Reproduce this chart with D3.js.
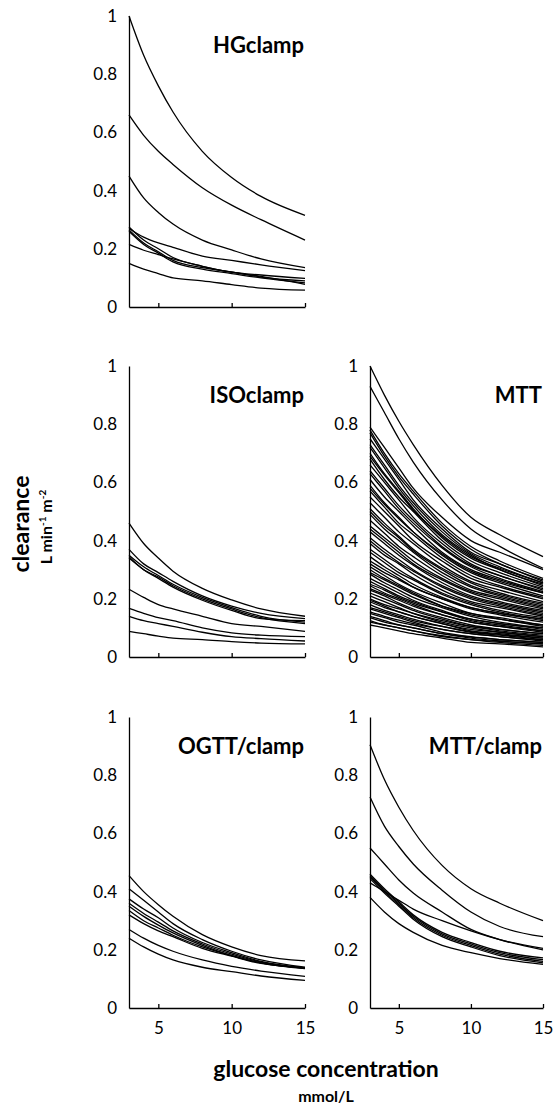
<!DOCTYPE html>
<html>
<head>
<meta charset="utf-8">
<script src="https://cdn.jsdelivr.net/npm/d3@7"></script>
<style>
  html, body { margin: 0; padding: 0; background: #fff; }
  svg { display: block; }
  text { font-family: Lato, "Open Sans", sans-serif; fill: #000; }
</style>
</head>
<body>
<svg id="chart" width="553" height="1108"></svg>
<script>
// glucose concentration (mmol/L) at which each curve is sampled
const glucose = [3, 4, 5, 6, 8, 10, 12, 15];
const xTicks = [5, 10, 15];
const yTicks = [0, 0.2, 0.4, 0.6, 0.8, 1];
const yTickLabels = ["0", "0.2", "0.4", "0.6", "0.8", "1"];

const hgClamp = [
  [1.00, 0.865, 0.76, 0.67, 0.535, 0.445, 0.38, 0.315],
  [0.66, 0.59, 0.535, 0.49, 0.41, 0.35, 0.30, 0.23],
  [0.45, 0.375, 0.325, 0.285, 0.23, 0.196, 0.165, 0.135],
  [0.27, 0.24, 0.22, 0.205, 0.175, 0.16, 0.145, 0.125],
  [0.275, 0.23, 0.20, 0.17, 0.14, 0.12, 0.105, 0.078],
  [0.265, 0.22, 0.19, 0.16, 0.135, 0.12, 0.103, 0.09],
  [0.26, 0.215, 0.185, 0.155, 0.13, 0.115, 0.10, 0.083],
  [0.215, 0.195, 0.18, 0.165, 0.14, 0.12, 0.11, 0.098],
  [0.15, 0.13, 0.115, 0.10, 0.09, 0.077, 0.065, 0.058]
];

const isoClamp = [
  [0.46, 0.39, 0.34, 0.295, 0.236, 0.196, 0.165, 0.14],
  [0.37, 0.32, 0.29, 0.26, 0.21, 0.175, 0.15, 0.132],
  [0.35, 0.31, 0.28, 0.25, 0.205, 0.17, 0.14, 0.12],
  [0.345, 0.30, 0.275, 0.245, 0.20, 0.165, 0.135, 0.115],
  [0.34, 0.30, 0.27, 0.24, 0.195, 0.16, 0.132, 0.125],
  [0.233, 0.205, 0.18, 0.165, 0.14, 0.115, 0.105, 0.088],
  [0.167, 0.15, 0.135, 0.125, 0.10, 0.083, 0.075, 0.07],
  [0.14, 0.125, 0.115, 0.105, 0.085, 0.07, 0.063, 0.055],
  [0.088, 0.08, 0.072, 0.065, 0.06, 0.053, 0.048, 0.045]
];

const mtt = [
  [1.00, 0.90, 0.81, 0.73, 0.59, 0.48, 0.42, 0.345],
  [0.93, 0.84, 0.75, 0.67, 0.54, 0.44, 0.38, 0.305],
  [0.79, 0.72, 0.65, 0.58, 0.48, 0.40, 0.36, 0.30],
  [0.78, 0.70, 0.63, 0.57, 0.46, 0.38, 0.33, 0.27],
  [0.77, 0.69, 0.62, 0.56, 0.45, 0.37, 0.32, 0.265],
  [0.75, 0.68, 0.61, 0.54, 0.44, 0.36, 0.32, 0.26],
  [0.73, 0.66, 0.59, 0.53, 0.43, 0.355, 0.31, 0.255],
  [0.72, 0.65, 0.58, 0.52, 0.42, 0.35, 0.30, 0.25],
  [0.70, 0.63, 0.57, 0.51, 0.41, 0.34, 0.30, 0.245],
  [0.69, 0.625, 0.565, 0.505, 0.415, 0.345, 0.305, 0.255],
  [0.68, 0.61, 0.55, 0.50, 0.40, 0.33, 0.29, 0.24],
  [0.66, 0.60, 0.54, 0.48, 0.39, 0.32, 0.28, 0.235],
  [0.64, 0.58, 0.52, 0.47, 0.38, 0.315, 0.28, 0.23],
  [0.63, 0.57, 0.51, 0.46, 0.375, 0.31, 0.27, 0.225],
  [0.61, 0.55, 0.50, 0.45, 0.36, 0.30, 0.265, 0.22],
  [0.59, 0.53, 0.48, 0.43, 0.35, 0.29, 0.255, 0.21],
  [0.58, 0.525, 0.475, 0.43, 0.355, 0.295, 0.26, 0.22],
  [0.57, 0.515, 0.46, 0.42, 0.34, 0.28, 0.245, 0.205],
  [0.55, 0.50, 0.45, 0.40, 0.33, 0.27, 0.24, 0.20],
  [0.53, 0.48, 0.43, 0.39, 0.315, 0.26, 0.23, 0.19],
  [0.51, 0.46, 0.415, 0.37, 0.305, 0.255, 0.22, 0.185],
  [0.50, 0.45, 0.41, 0.365, 0.30, 0.245, 0.215, 0.18],
  [0.49, 0.44, 0.40, 0.36, 0.29, 0.24, 0.21, 0.175],
  [0.47, 0.425, 0.38, 0.345, 0.28, 0.23, 0.205, 0.17],
  [0.45, 0.41, 0.37, 0.33, 0.27, 0.225, 0.20, 0.165],
  [0.44, 0.40, 0.36, 0.32, 0.265, 0.22, 0.19, 0.16],
  [0.43, 0.39, 0.35, 0.315, 0.255, 0.21, 0.185, 0.155],
  [0.41, 0.37, 0.335, 0.30, 0.245, 0.205, 0.18, 0.15],
  [0.40, 0.36, 0.325, 0.295, 0.24, 0.20, 0.175, 0.145],
  [0.39, 0.35, 0.32, 0.285, 0.23, 0.19, 0.17, 0.14],
  [0.37, 0.335, 0.30, 0.27, 0.22, 0.185, 0.16, 0.135],
  [0.36, 0.325, 0.29, 0.265, 0.215, 0.18, 0.155, 0.13],
  [0.345, 0.31, 0.28, 0.25, 0.205, 0.17, 0.15, 0.125],
  [0.33, 0.30, 0.27, 0.24, 0.20, 0.165, 0.145, 0.12],
  [0.32, 0.29, 0.265, 0.24, 0.20, 0.17, 0.15, 0.13],
  [0.31, 0.28, 0.25, 0.225, 0.185, 0.15, 0.135, 0.11],
  [0.30, 0.27, 0.245, 0.22, 0.175, 0.145, 0.13, 0.105],
  [0.29, 0.265, 0.24, 0.215, 0.175, 0.15, 0.13, 0.11],
  [0.285, 0.255, 0.23, 0.205, 0.17, 0.14, 0.12, 0.10],
  [0.27, 0.245, 0.22, 0.195, 0.16, 0.13, 0.115, 0.095],
  [0.26, 0.235, 0.21, 0.19, 0.155, 0.125, 0.11, 0.09],
  [0.25, 0.23, 0.205, 0.185, 0.155, 0.13, 0.115, 0.10],
  [0.245, 0.22, 0.20, 0.18, 0.145, 0.12, 0.105, 0.085],
  [0.235, 0.215, 0.195, 0.175, 0.145, 0.12, 0.105, 0.09],
  [0.23, 0.21, 0.185, 0.165, 0.135, 0.11, 0.095, 0.08],
  [0.22, 0.20, 0.18, 0.16, 0.13, 0.105, 0.09, 0.075],
  [0.21, 0.19, 0.17, 0.15, 0.12, 0.10, 0.085, 0.07],
  [0.20, 0.18, 0.165, 0.15, 0.125, 0.105, 0.095, 0.08],
  [0.195, 0.175, 0.155, 0.14, 0.115, 0.09, 0.08, 0.065],
  [0.19, 0.17, 0.155, 0.14, 0.115, 0.095, 0.085, 0.07],
  [0.18, 0.16, 0.145, 0.13, 0.105, 0.085, 0.075, 0.06],
  [0.17, 0.155, 0.14, 0.125, 0.105, 0.087, 0.077, 0.065],
  [0.165, 0.15, 0.135, 0.12, 0.095, 0.08, 0.07, 0.055],
  [0.155, 0.14, 0.127, 0.115, 0.095, 0.08, 0.07, 0.06],
  [0.15, 0.135, 0.12, 0.11, 0.085, 0.07, 0.06, 0.05],
  [0.14, 0.125, 0.11, 0.10, 0.08, 0.065, 0.055, 0.045],
  [0.135, 0.12, 0.11, 0.10, 0.08, 0.068, 0.06, 0.05],
  [0.125, 0.11, 0.10, 0.09, 0.07, 0.06, 0.05, 0.04],
  [0.12, 0.11, 0.10, 0.09, 0.073, 0.06, 0.054, 0.045],
  [0.11, 0.10, 0.09, 0.08, 0.065, 0.05, 0.045, 0.035]
];

const ogttClamp = [
  [0.455, 0.40, 0.355, 0.315, 0.252, 0.21, 0.18, 0.162],
  [0.41, 0.37, 0.33, 0.29, 0.235, 0.195, 0.165, 0.14],
  [0.375, 0.34, 0.31, 0.275, 0.225, 0.19, 0.16, 0.138],
  [0.36, 0.325, 0.295, 0.265, 0.22, 0.185, 0.158, 0.136],
  [0.35, 0.315, 0.285, 0.258, 0.215, 0.18, 0.155, 0.135],
  [0.335, 0.30, 0.275, 0.25, 0.21, 0.18, 0.155, 0.137],
  [0.32, 0.29, 0.265, 0.245, 0.205, 0.178, 0.153, 0.138],
  [0.27, 0.24, 0.215, 0.195, 0.165, 0.143, 0.127, 0.109],
  [0.24, 0.21, 0.185, 0.165, 0.14, 0.125, 0.11, 0.095]
];

const mttClamp = [
  [0.905, 0.785, 0.69, 0.61, 0.49, 0.41, 0.36, 0.30],
  [0.725, 0.625, 0.555, 0.495, 0.405, 0.33, 0.28, 0.245],
  [0.55, 0.495, 0.44, 0.395, 0.33, 0.27, 0.235, 0.20],
  [0.43, 0.40, 0.37, 0.34, 0.30, 0.265, 0.235, 0.205],
  [0.46, 0.41, 0.365, 0.32, 0.26, 0.225, 0.195, 0.172],
  [0.455, 0.405, 0.36, 0.315, 0.255, 0.22, 0.19, 0.166],
  [0.45, 0.40, 0.355, 0.31, 0.25, 0.215, 0.185, 0.16],
  [0.445, 0.395, 0.35, 0.305, 0.245, 0.21, 0.18, 0.155],
  [0.38, 0.33, 0.29, 0.26, 0.215, 0.19, 0.17, 0.15]
];

const panels = [
  { name: "HGclamp",    data: hgClamp,   x0: 129, x1: 305, yTop: 16,  yBot: 307,  xLabels: false },
  { name: "ISOclamp",   data: isoClamp,  x0: 129, x1: 305, yTop: 366, yBot: 657,  xLabels: false },
  { name: "MTT",        data: mtt,       x0: 370, x1: 543, yTop: 366, yBot: 657,  xLabels: false },
  { name: "OGTT/clamp", data: ogttClamp, x0: 129, x1: 305, yTop: 717, yBot: 1008, xLabels: true },
  { name: "MTT/clamp",  data: mttClamp,  x0: 370, x1: 543, yTop: 717, yBot: 1008, xLabels: true }
];

const svg = d3.select("#chart");

panels.forEach(p => {
  const x = d3.scaleLinear().domain([3, 15]).range([p.x0, p.x1]);
  const y = d3.scaleLinear().domain([0, 1]).range([p.yBot, p.yTop]);
  const g = svg.append("g");

  const line = d3.line().x((d, i) => x(glucose[i])).y(d => y(d)).curve(d3.curveMonotoneX);
  g.selectAll("path.curve").data(p.data).join("path")
    .attr("class", "curve")
    .attr("d", line)
    .attr("fill", "none")
    .attr("stroke", "#000")
    .attr("stroke-width", 1.3)
    .attr("stroke-linejoin", "round");

  const yAxis = d3.axisLeft(y).tickValues(yTicks)
    .tickFormat((d, i) => yTickLabels[i]).tickSize(0).tickPadding(12);
  const ya = g.append("g").attr("transform", `translate(${p.x0},0)`).call(yAxis);
  ya.select(".domain").attr("stroke", "#000").attr("stroke-width", 1.3);
  ya.selectAll("text").style("font-size", "17px").style("font-family", "Lato, sans-serif");

  const xAxis = d3.axisBottom(x).tickValues(xTicks)
    .tickSizeInner(-4).tickSizeOuter(0).tickPadding(14)
    .tickFormat(p.xLabels ? d3.format("d") : () => "");
  const xa = g.append("g").attr("transform", `translate(0,${p.yBot})`).call(xAxis);
  xa.select(".domain").attr("stroke", "#000").attr("stroke-width", 1.3);
  xa.selectAll(".tick line").attr("stroke", "#000").attr("stroke-width", 1.3);
  xa.selectAll("text").style("font-size", "17px").style("font-family", "Lato, sans-serif");

  g.append("text")
    .attr("x", p.x1 - 1)
    .attr("y", p.yTop + 37)
    .attr("text-anchor", "end")
    .style("font-size", "22px")
    .style("font-weight", "bold")
    .text(p.name);
});

// axis titles
svg.append("text")
  .attr("transform", "translate(29,524) rotate(-90)")
  .attr("text-anchor", "middle")
  .style("font-size", "23px").style("font-weight", "bold")
  .text("clearance");

const unit = svg.append("text")
  .attr("transform", "translate(52,527) rotate(-90)")
  .attr("text-anchor", "middle")
  .style("font-size", "16px").style("font-weight", "bold");
unit.append("tspan").text("L min");
unit.append("tspan").attr("dy", -6).style("font-size", "10px").text("-1");
unit.append("tspan").attr("dy", 6).text(" m");
unit.append("tspan").attr("dy", -6).style("font-size", "10px").text("-2");

svg.append("text")
  .attr("x", 326).attr("y", 1077)
  .attr("text-anchor", "middle")
  .style("font-size", "23px").style("font-weight", "bold")
  .text("glucose concentration");

svg.append("text")
  .attr("x", 326).attr("y", 1102)
  .attr("text-anchor", "middle")
  .style("font-size", "16px").style("font-weight", "bold")
  .text("mmol/L");
</script>
</body>
</html>
